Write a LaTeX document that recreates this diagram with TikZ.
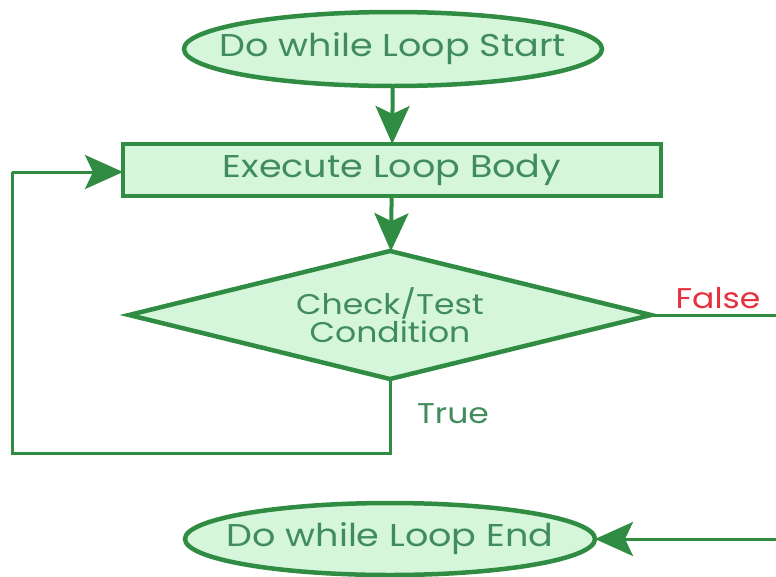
\documentclass[tikz,border=0pt]{standalone}
\usepackage{fontspec}
\setmainfont{Poppins}[FakeStretch=1.16]
\usetikzlibrary{shapes.geometric,arrows.meta}
\definecolor{gstroke}{RGB}{48,140,66}
\definecolor{gfill}{RGB}{214,246,220}
\definecolor{gtext}{RGB}{64,140,92}
\definecolor{fred}{RGB}{232,48,60}
\tikzset{
  base/.style={draw=gstroke, fill=gfill, line width=4.5pt, text=gtext, inner sep=0pt, outer sep=0pt, font=\fontsize{31.5}{29}\selectfont},
  term/.style={base, ellipse},
  proc/.style={base, rectangle},
  dec/.style={base, diamond, aspect=4, align=center, font=\fontsize{28.5}{29}\selectfont},
  conn/.style={draw=gstroke, line width=3pt},
  arr/.style={conn, -{Stealth[length=38pt, width=34pt, inset=8pt]}},
  lbl/.style={font=\fontsize{28.5}{29}\selectfont, inner sep=0pt},
}
\begin{document}
\begin{tikzpicture}[x=1pt, y=-1pt]
\clip (0,0) rectangle (776,576);
\fill[white] (0,0) rectangle (776,576);
\node[term, minimum width=418pt, minimum height=74pt] (start) at (393,49) {\makebox[0pt]{Do while Loop Start}};
\node[proc, minimum width=538pt, minimum height=52pt] (body) at (392,170) {Execute Loop Body};
\node[dec, minimum width=522pt, minimum height=128pt] (cond) at (390,315) {Check/Test\\[-1pt]Condition};
\node[term, minimum width=410pt, minimum height=72pt] (end) at (390,539) {\makebox[0pt]{Do while Loop End}};
\coordinate (tb) at (390,453);
\coordinate (tl) at (12,453);
\coordinate (tt) at (12,172);
\coordinate (fr) at (790,315);
\coordinate (fb) at (790,539);
\draw[arr, line width=4pt] (start) -- (body);
\draw[arr, line width=4pt] (body) -- (cond);
\draw[conn] (cond.south) -- (tb) -- (tl) -- (tt);
\draw[arr] (tt) -- (body.west |- tt);
\draw[conn] (cond.east) -- (fr) -- (fb);
\draw[arr] (fb) -- (end.east);
\node[lbl, text=gtext] (true) at (453,414) {True};
\node[lbl, text=fred] (false) at (718,298) {False};
\end{tikzpicture}
\end{document}
